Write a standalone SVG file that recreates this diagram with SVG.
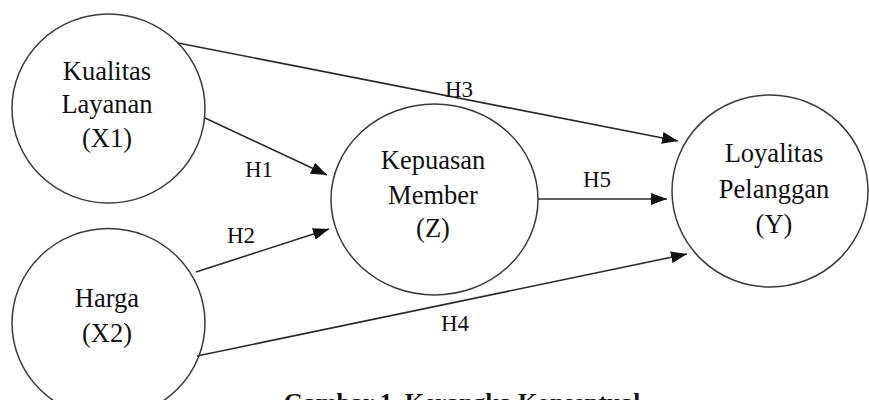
<svg xmlns="http://www.w3.org/2000/svg" width="869" height="400" viewBox="0 0 869 400">
<style>
.node{fill:#fff;stroke:#3a3a3a;stroke-width:1.5}
text{font-family:'Liberation Serif','Times New Roman',serif;fill:#111;text-anchor:middle}
.t{font-size:26.5px}
.h{font-size:23px}
.e{stroke:#2a2a2a;stroke-width:1.6;fill:none;marker-end:url(#ah)}
.cap{font-size:25px;font-weight:bold}
</style>
<defs>
<marker id="ah" markerWidth="16" markerHeight="12" refX="16" refY="6" orient="auto" markerUnits="userSpaceOnUse">
<path d="M0,0 L16,6 L0,12 Z" fill="#111"/>
</marker>
</defs>
<rect width="869" height="400" fill="#fff"/>
<g id="x1">
<ellipse class="node" cx="108.5" cy="108.5" rx="96.5" ry="94.5"/>
<text class="t" x="107" y="80">Kualitas</text>
<text class="t" x="107" y="113">Layanan</text>
<text class="t" x="107" y="147">(X1)</text>
</g>
<g id="x2">
<ellipse class="node" cx="108.5" cy="323" rx="96.5" ry="94.5"/>
<text class="t" x="107" y="307">Harga</text>
<text class="t" x="107" y="342">(X2)</text>
</g>
<g id="z">
<ellipse class="node" cx="434.5" cy="199.5" rx="103.5" ry="95.5"/>
<text class="t" x="433" y="169">Kepuasan</text>
<text class="t" x="433" y="204">Member</text>
<text class="t" x="433" y="237">(Z)</text>
</g>
<g id="y">
<ellipse class="node" cx="770" cy="191" rx="98" ry="96"/>
<text class="t" x="774" y="162">Loyalitas</text>
<text class="t" x="774" y="198">Pelanggan</text>
<text class="t" x="774" y="233">(Y)</text>
</g>
<g id="connectors">
<line class="e" x1="178" y1="43" x2="678" y2="141"/>
<line class="e" x1="205" y1="118" x2="327" y2="175"/>
<line class="e" x1="196" y1="272" x2="329" y2="229"/>
<line class="e" x1="197" y1="356" x2="687" y2="254"/>
<line class="e" x1="538" y1="199" x2="667" y2="199"/>
<text class="h" x="259" y="177">H1</text>
<text class="h" x="241" y="243">H2</text>
<text class="h" x="459" y="97">H3</text>
<text class="h" x="455" y="331">H4</text>
<text class="h" x="597" y="187">H5</text>
</g>
<text class="cap" x="462" y="410.5">Gambar 1. Kerangka Konseptual</text>
</svg>
